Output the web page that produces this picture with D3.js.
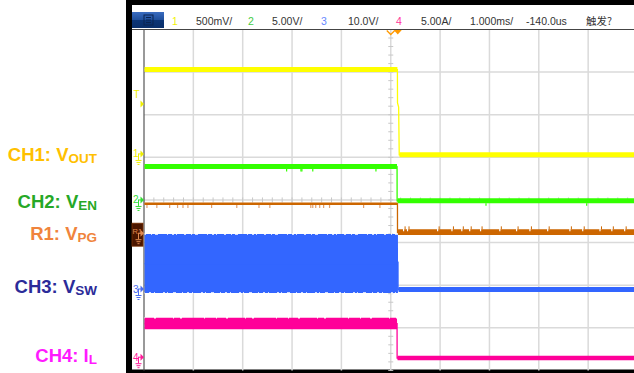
<!DOCTYPE html>
<html>
<head>
<meta charset="utf-8">
<script src="https://cdn.jsdelivr.net/npm/d3@7/dist/d3.min.js"></script>
<style>
  body { margin: 0; background: #fff; }
  svg { display: block; font-family: "Liberation Sans", Arial, sans-serif; }
</style>
</head>
<body>
<svg id="chart" width="634" height="373"></svg>
<script>
// scope settings: 1.000 ms/div, 10 div across, 8 div tall
const timeDomain = [-5, 5];
const divDomain = [-4, 4];

// header readout
const headerDigits = ["1", "2", "3", "4"];
const headerScales = ["500mV/", "5.00V/", "10.0V/", "5.00A/"];
const timeReadouts = ["1.000ms/", "-140.0us", "触发?"];

// trigger: CH1 level (V) at t = 0
const trigLevel = 0.585;

// traces: time (ms), lower / upper envelope in channel units
const ch1Time = [-5, 0.135, 0.137, 0.16, 0.172, 0.18, 5];
const ch1Lo   = [0.96, 0.96, 0.60, 0.55, -0.01, -0.04, -0.04];
const ch1Hi   = [1.02, 1.02, 0.60, 0.55, -0.01, 0.02, 0.02];

const ch2Time = [-5, 0.127, 0.128, 0.129, 0.14, 5];
const ch2Lo   = [3.62, 3.62, 3.9, -0.1, -0.40, -0.40];
const ch2Hi   = [4.21, 4.21, 3.9, -0.1, 0.19, 0.19];

const r1Time  = [-5, 0.135, 0.136, 0.137, 0.15, 5];
const r1Lo    = [3.30, 3.30, 3.45, 0.1, -0.22, -0.22];
const r1Hi    = [3.61, 3.61, 3.45, 0.1, 0.45, 0.45];

const ch3Time = [-5, 0.146, 0.147, 0.148, 0.16, 5];
const ch3Lo   = [-0.94, -0.94, 6, 0, -0.7, -0.7];
const ch3Hi   = [12.9, 12.9, 6, 0, 0.47, 0.47];

const ch4Time = [-5, 0.127, 0.128, 0.129, 0.14, 5];
const ch4Lo   = [3.27, 3.27, 3.95, -0.1, -0.36, -0.36];
const ch4Hi   = [4.63, 4.63, 3.95, -0.1, 0.18, 0.18];

// glitches (ms)
const r1DropGlitch = [-4.94, -4.74, -4.48, -4.32, -4.21, -4.11, -3.63, -3.12, -2.67, -2.45,
                      -1.62, -1.58, -1.52, -1.44, -1.36, -1.24, -0.55, -0.22];
const r1RiseGlitch = [0.26, 0.34, 0.95, 1.24, 1.44, 1.60, 1.82, 2.21, 2.55, 2.82, 3.18,
                      3.63, 3.89, 4.24, 4.48, 4.74];
const ch2Glitch = [-2.11, -1.82, -1.80, -1.58, -0.30, 1.93, 3.97];

// labels
const labelMain = ["CH1: V", "CH2: V", "R1: V", "CH3: V", "CH4: I"];
const labelSub  = ["OUT", "EN", "PG", "SW", "L"];

const channels = [
  { id: "1",  scale: 0.5, offset: 1.08,  color: "#ffff00", mark: "#eeee00", label: "#ffc000", t: ch1Time, lo: ch1Lo, hi: ch1Hi, dy: 7 },
  { id: "2",  scale: 5,   offset: 0,     color: "#33ff00", mark: "#33dd33", label: "#26a826", t: ch2Time, lo: ch2Lo, hi: ch2Hi, dy: 8 },
  { id: "R1", scale: 5,   offset: -0.78, color: "#cc6600", mark: "#cc6600", label: "#f0843c", t: r1Time,  lo: r1Lo,  hi: r1Hi,  dy: 7 },
  { id: "3",  scale: 10,  offset: -2.09, color: "#3366ff", mark: "#4a6cf0", label: "#2b2b99", t: ch3Time, lo: ch3Lo, hi: ch3Hi, dy: 4 },
  { id: "4",  scale: 5,   offset: -3.69, color: "#ff0099", mark: "#ff1a99", label: "#ff1aff", t: ch4Time, lo: ch4Lo, hi: ch4Hi, dy: 5 }
];

const svg = d3.select("#chart");
const W = 634, H = 373;
const plot = { left: 144, right: 637.5, top: 29.5, bottom: 370.4 };

const x = d3.scaleLinear().domain(timeDomain).range([plot.left, plot.right]);
const yDiv = d3.scaleLinear().domain(divDomain).range([plot.bottom, plot.top]);
const yOf = (ch, v) => yDiv(ch.offset + v / ch.scale);

// screen frame
svg.append("rect").attr("x", 126).attr("y", 0).attr("width", W - 126).attr("height", H).attr("fill", "#000");
svg.append("rect").attr("x", 132).attr("y", 5).attr("width", W - 132).attr("height", 364.5).attr("fill", "#fff");

// header
const grad = svg.append("defs").append("linearGradient").attr("id", "btn").attr("x1", 0).attr("y1", 0).attr("x2", 0).attr("y2", 1);
grad.append("stop").attr("offset", "0").attr("stop-color", "#3a6cc0");
grad.append("stop").attr("offset", "0.5").attr("stop-color", "#1f4f9c");
grad.append("stop").attr("offset", "0.5").attr("stop-color", "#0c3576");
grad.append("stop").attr("offset", "1").attr("stop-color", "#0a2f6a");
svg.append("rect").attr("x", 132).attr("y", 12).attr("width", 32).attr("height", 16).attr("fill", "url(#btn)");
svg.append("rect").attr("x", 144).attr("y", 15).attr("width", 9).attr("height", 10)
  .attr("fill", "none").attr("stroke", "#0a2450").attr("stroke-width", 1);
[17.5, 20, 22.5].forEach(yy => svg.append("line").attr("x1", 146).attr("x2", 151).attr("y1", yy).attr("y2", yy)
  .attr("stroke", "#0a2450").attr("stroke-width", 1));

const hdr = svg.append("g").attr("font-size", 10.5).attr("fill", "#333");
const digitX = [175, 251, 324, 399];
const scaleX = [196, 272, 348, 421];
const digitColors = ["#f2f200", "#44cc44", "#6688ff", "#ff3399"];
headerDigits.forEach((d, i) => {
  hdr.append("text").attr("x", digitX[i]).attr("y", 25).attr("text-anchor", "middle")
    .attr("fill", digitColors[i]).text(d);
  hdr.append("text").attr("x", scaleX[i]).attr("y", 25).text(headerScales[i]);
});
const timeX = [470, 526, 586];
timeReadouts.forEach((s, i) => {
  hdr.append("text").attr("x", timeX[i]).attr("y", 25)
    .attr("font-family", i === 2 ? "'Noto Sans CJK SC', sans-serif" : null).text(s);
});

// grid
const grid = svg.append("g");
const xTicks = d3.range(timeDomain[0], timeDomain[1] + 1, 1);
const yTicks = d3.range(divDomain[0], divDomain[1] + 1, 1);
grid.selectAll(".vg").data(xTicks.slice(1)).enter().append("line")
  .attr("x1", d => x(d)).attr("x2", d => x(d)).attr("y1", plot.top).attr("y2", plot.bottom)
  .attr("stroke", "#dadada").attr("stroke-width", 1.5);
grid.selectAll(".hg").data(yTicks.slice(1, -1)).enter().append("line")
  .attr("x1", plot.left).attr("x2", W).attr("y1", d => yDiv(d)).attr("y2", d => yDiv(d))
  .attr("stroke", "#dadada").attr("stroke-width", 1.5);
// minor ticks on center axes
const minorT = d3.range(timeDomain[0], timeDomain[1] + 0.001, 0.2);
const minorV = d3.range(divDomain[0], divDomain[1] + 0.001, 0.2);
grid.selectAll(".mt").data(minorT).enter().append("line")
  .attr("x1", d => x(d)).attr("x2", d => x(d)).attr("y1", yDiv(0) - 2.5).attr("y2", yDiv(0) + 2.5)
  .attr("stroke", "#c8c8c8").attr("stroke-width", 1);
grid.selectAll(".mv").data(minorV).enter().append("line")
  .attr("x1", x(0) - 2.5).attr("x2", x(0) + 2.5).attr("y1", d => yDiv(d)).attr("y2", d => yDiv(d))
  .attr("stroke", "#c8c8c8").attr("stroke-width", 1);
// borders
svg.append("line").attr("x1", 132).attr("x2", W).attr("y1", plot.top).attr("y2", plot.top)
  .attr("stroke", "#444").attr("stroke-width", 1);
svg.append("line").attr("x1", plot.left).attr("x2", plot.left).attr("y1", plot.top).attr("y2", plot.bottom)
  .attr("stroke", "#555").attr("stroke-width", 1.2);

// traces
svg.append("clipPath").attr("id", "clip").append("rect")
  .attr("x", plot.left + 0.6).attr("y", plot.top).attr("width", W - plot.left).attr("height", plot.bottom - plot.top);
const traces = svg.append("g").attr("clip-path", "url(#clip)");

const drawOrder = [0, 1, 3, 4, 2];
drawOrder.forEach(k => {
  const ch = channels[k];
  const pts = ch.t.map((t, i) => ({ t, lo: ch.lo[i], hi: ch.hi[i] }));
  const area = d3.area().x(d => x(d.t)).y0(d => yOf(ch, d.lo)).y1(d => yOf(ch, d.hi));
  const line = d3.line().x(d => x(d.t)).y(d => yOf(ch, (d.lo + d.hi) / 2));
  const g = traces.append("g");
  g.append("path").datum(pts).attr("d", area).attr("fill", ch.color);
  g.append("path").datum(pts).attr("d", line).attr("fill", "none").attr("stroke", ch.color).attr("stroke-width", 1.3);
  ch.g = g;
  ch.pts = pts;
});

// switching-band and ripple edges (white notches)
const edgeNotch = (ch, pick, t0, t1, dash, w) => {
  const seg = ch.pts.filter(d => d.t >= t0 && d.t <= t1);
  ch.g.append("path").datum(seg)
    .attr("d", d3.line().x(d => x(d.t)).y(d => yOf(ch, d[pick])))
    .attr("fill", "none").attr("stroke", "#fff").attr("stroke-width", w).attr("stroke-dasharray", dash);
};
edgeNotch(channels[3], "hi", -5, 0.146, "2 5 1 3 3 9 1 4 2 2 1 7", 1.6);
edgeNotch(channels[3], "lo", -5, 0.146, "1 4 2 3 1 8 2 2 1 5 3 6", 1.6);
edgeNotch(channels[4], "hi", -5, 0.127, "1 9 2 17 1 6 2 22 1 11", 1.4);

// R1 glitches
const r1 = channels[2];
traces.selectAll(".rg").data(r1DropGlitch).enter().append("line")
  .attr("x1", d => x(d)).attr("x2", d => x(d))
  .attr("y1", yOf(r1, 3.3)).attr("y2", yOf(r1, 3.3) + 3)
  .attr("stroke", "#e0a070").attr("stroke-width", 1.2);
traces.selectAll(".rr").data(r1RiseGlitch).enter().append("line")
  .attr("x1", d => x(d)).attr("x2", d => x(d))
  .attr("y1", yOf(r1, 0.45) - 2.5).attr("y2", yOf(r1, 0.45) + 2)
  .attr("stroke", "#fff").attr("stroke-width", 1.2);
traces.selectAll(".rr2").data(r1RiseGlitch).enter().append("line")
  .attr("x1", d => x(d) + 1.5).attr("x2", d => x(d) + 1.5)
  .attr("y1", yOf(r1, 0.45) - 3).attr("y2", yOf(r1, 0.45))
  .attr("stroke", "#cc6600").attr("stroke-width", 1);
// CH2 glitches
const c2 = channels[1];
traces.selectAll(".gg").data(ch2Glitch).enter().append("line")
  .attr("x1", d => x(d)).attr("x2", d => x(d))
  .attr("y1", d => yOf(c2, d < 0 ? 3.62 : -0.4)).attr("y2", d => yOf(c2, d < 0 ? 3.62 : -0.4) + 2.5)
  .attr("stroke", c2.color).attr("stroke-width", 1.2);

// trigger marker at top: hollow V at trigger point, filled one beside it
const tx = x(0);
svg.append("path")
  .attr("d", `M${tx - 4},${plot.top + 1} L${tx},${plot.top + 5} L${tx + 4},${plot.top + 1}`)
  .attr("fill", "none").attr("stroke", "#ff9900").attr("stroke-width", 1.3);
svg.append("path")
  .attr("d", `M${tx + 3},${plot.top + 0.5} L${tx + 11},${plot.top + 0.5} L${tx + 7},${plot.top + 5} Z`)
  .attr("fill", "#ff9900");

// gutter markers
const gut = svg.append("g").attr("font-size", 10);
channels.forEach(ch => {
  const yr = yDiv(ch.offset);
  const c = ch.mark;
  if (ch.id === "R1") {
    gut.append("rect").attr("x", 132).attr("y", yr - 10).attr("width", 11).attr("height", 23)
      .attr("fill", "#4a1600").attr("stroke", "#7a3000").attr("stroke-width", 0.8);
    gut.append("text").attr("x", 132.5).attr("y", yr + 1).attr("font-size", 7.5).attr("fill", "#e08a50").text("R1");
  } else {
    gut.append("text").attr("x", 133).attr("y", yr + 3.5).attr("fill", c).text(ch.id);
  }
  gut.append("path").attr("d", `M138,${yr} L141,${yr} M138.5,${yr} L138.5,${yr + 6}`)
    .attr("stroke", ch.id === "R1" ? "#e08a50" : c).attr("stroke-width", 1).attr("fill", "none");
  gut.append("path").attr("d", `M140.5,${yr - 3.5} L144,${yr} L140.5,${yr + 3.5} Z`).attr("fill", ch.id === "R1" ? "#e08a50" : c);
  gut.append("path").attr("d", `M135.5,${yr + 6.5} L141.5,${yr + 6.5} M136.5,${yr + 8.5} L140.5,${yr + 8.5} M137.5,${yr + 10.5} L139.5,${yr + 10.5}`)
    .attr("stroke", ch.id === "R1" ? "#e08a50" : c).attr("stroke-width", 1);
});
// trigger level marker
const yT = yOf(channels[0], trigLevel);
gut.append("text").attr("x", 133.5).attr("y", yT - 6).attr("fill", "#eeee00").text("T");
gut.append("path").attr("d", `M140.5,${yT - 3.5} L144,${yT} L140.5,${yT + 3.5} Z`).attr("fill", "#eeee00");

// channel labels
const lab = svg.append("g").attr("font-weight", "bold");
channels.forEach((ch, i) => {
  const t = lab.append("text").attr("x", 97).attr("y", yDiv(ch.offset) + ch.dy)
    .attr("text-anchor", "end").attr("fill", ch.label).attr("font-size", 18.5);
  t.append("tspan").text(labelMain[i]);
  t.append("tspan").attr("font-size", 13.5).attr("dy", 2).text(labelSub[i]);
});
</script>
</body>
</html>
